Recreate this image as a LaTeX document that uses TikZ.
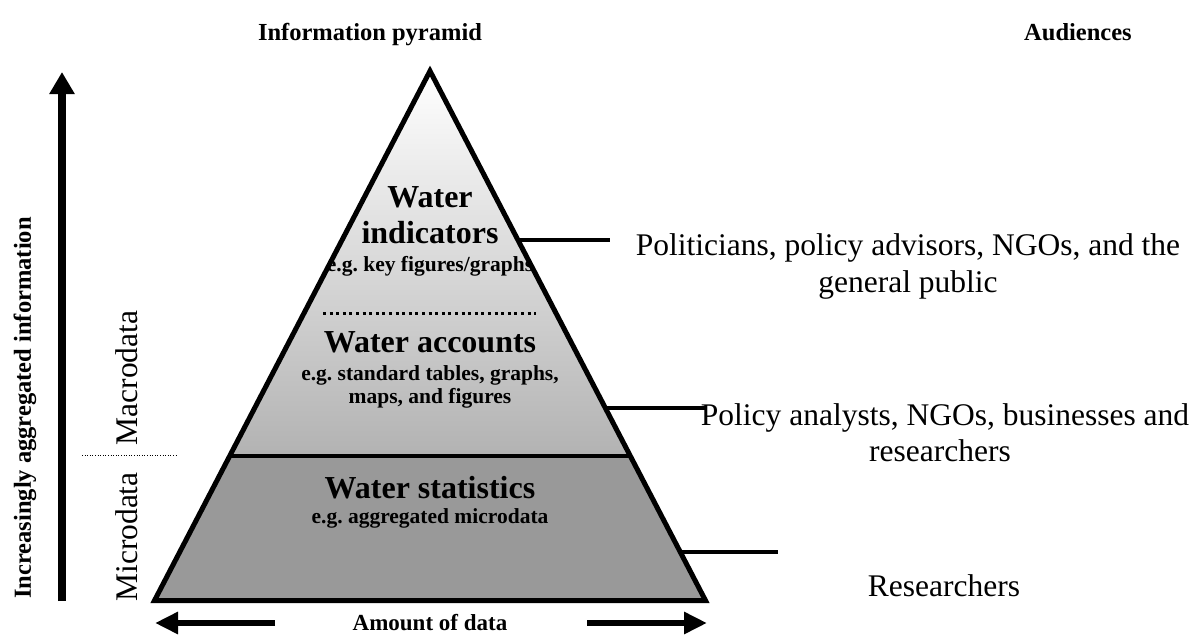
\documentclass[tikz,border=0pt]{standalone}
\usepackage{fontspec}
\setmainfont{Liberation Serif}
\usetikzlibrary{arrows.meta}
\frenchspacing

\tikzset{
  heading/.style={font=\bfseries\fontsize{24.5}{26}\selectfont, anchor=base, inner sep=0pt},
  layername/.style={font=\bfseries\fontsize{32}{34}\selectfont, anchor=base, inner sep=0pt},
  layerex/.style={font=\bfseries\fontsize{21.5}{23}\selectfont, anchor=base, inner sep=0pt},
  audience/.style={font=\fontsize{31.5}{34}\selectfont, anchor=base, inner sep=0pt},
  sidelabel/.style={font=\fontsize{31.5}{34}\selectfont, rotate=90, inner sep=0pt},
  fatarrow/.style={line width=8pt, -{Triangle[length=22pt,width=24pt]}},
  flatarrow/.style={line width=6pt, -{Triangle[length=23pt,width=21pt]}},
  tieline/.style={line width=4pt}
}

\begin{document}
\begin{tikzpicture}[x=1pt,y=-1pt]
\useasboundingbox (0,0) rectangle (1200,635);

% corners of the pyramid
\coordinate (apex) at (430,71);
\coordinate (bl) at (154.5,600.5);
\coordinate (br) at (705.5,600.5);
\coordinate (ml) at (229.7,456);
\coordinate (mr) at (630.3,456);

% fills
\shade[top color=white, bottom color=black!30] (apex) -- (ml) -- (mr) -- cycle;
\fill[black!40] (ml) -- (bl) -- (br) -- (mr) -- cycle;

\draw[line width=3.5pt] (ml) -- (mr);
\draw[line width=3pt, dash pattern=on 3pt off 3.6pt] (323,313) -- (536,313);
\draw[line width=5pt, line join=miter] (apex) -- (bl) -- (br) -- cycle;

% headings
\node[heading] (hpyr) at (370,40) {Information pyramid};
\node[heading] (haud) at (1078,40) {Audiences};

% layers
\node[layername] (ind1) at (430,207) {Water};
\node[layername] (ind2) at (430,243) {indicators};
\node[layerex] (indx) at (430,271) {e.g. key figures/graphs};

\node[layername] (acc) at (430,352) {Water accounts};
\node[layerex] (accx1) at (430,380) {e.g. standard tables, graphs,};
\node[layerex] (accx2) at (430,403) {maps, and figures};

\node[layername] (sta) at (430,498) {Water statistics};
\node[layerex] (stax) at (430,523) {e.g. aggregated microdata};

% audiences
\node[audience] (aud1a) at (908,255) {Politicians, policy advisors, NGOs, and the};
\node[audience] (aud1b) at (908,292) {general public};
\node[audience] (aud2a) at (945,425) {Policy analysts, NGOs, businesses and};
\node[audience] (aud2b) at (940,461) {researchers};
\node[audience] (aud3) at (944,596) {Researchers};

\coordinate (t1) at (518,240);  \coordinate (t1e) at (610,240);
\coordinate (t2) at (605.3,408); \coordinate (t2e) at (705,408);
\coordinate (t3) at (680.3,552); \coordinate (t3e) at (778,552);
\draw[tieline] (t1) -- (t1e);
\draw[tieline] (t2) -- (t2e);
\draw[tieline] (t3) -- (t3e);

% left side
\coordinate (up0) at (62,601);
\coordinate (up1) at (62,72);
\draw[fatarrow] (up0) -- (up1);
\node[font=\bfseries\fontsize{24.5}{26}\selectfont, rotate=90, inner sep=0pt] (agg) at (25,408) {Increasingly aggregated information};

\node[sidelabel] (micro) at (127,537) {Microdata};
\node[sidelabel] (macro) at (127,378) {Macrodata};
\coordinate (cut0) at (82,455);
\coordinate (cut1) at (177,455);
\draw[line width=1pt, dash pattern=on 1pt off 1.6pt] (cut0) -- (cut1);

% bottom
\node[font=\bfseries\fontsize{23}{25}\selectfont, anchor=base, inner sep=0pt] (amount) at (430,630) {Amount of data};
\coordinate (lft0) at (275,623); \coordinate (lft1) at (155,623);
\coordinate (rgt0) at (587,623); \coordinate (rgt1) at (707,623);
\draw[flatarrow] (lft0) -- (lft1);
\draw[flatarrow] (rgt0) -- (rgt1);

\end{tikzpicture}
\end{document}
